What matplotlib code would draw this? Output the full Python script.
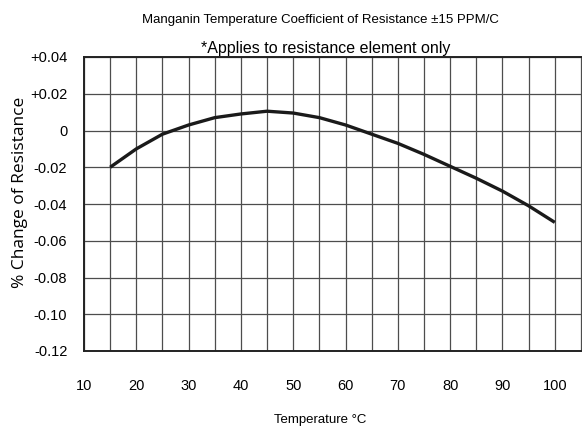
import matplotlib
matplotlib.use("Agg")
import matplotlib.pyplot as plt

# curve
temp_c = [15, 20, 25, 30, 35, 40, 45, 50, 55, 60, 65, 70, 75, 80, 85, 90, 95, 100]
pct_change = [-0.020, -0.010, -0.002, 0.003, 0.007, 0.009, 0.0105, 0.0095, 0.007, 0.003,
              -0.002, -0.007, -0.013, -0.0195, -0.026, -0.033, -0.041, -0.050]

x_ticks = [10, 20, 30, 40, 50, 60, 70, 80, 90, 100]
y_ticks = [0.04, 0.02, 0, -0.02, -0.04, -0.06, -0.08, -0.10, -0.12]
y_labels = ["+0.04", "+0.02", "0", "-0.02", "-0.04", "-0.06", "-0.08", "-0.10", "-0.12"]

narrow = ["Liberation Sans", "DejaVu Sans"]
plain = ["Liberation Sans", "DejaVu Sans"]
ylab_font = ["Open Sans", "DejaVu Sans"]

fig = plt.figure(figsize=(5.82, 4.29), dpi=100)
ax = fig.add_axes([84/582, 1 - 351/429, 1 - 84/582, (351 - 57)/429])

ax.plot(temp_c, pct_change, color="#1a1a1a", lw=2.4, solid_capstyle="butt")

ax.set_xlim(10, 105.2)
ax.set_ylim(-0.12, 0.04)

# grid every 5 degrees and every 0.02
grid_x = list(range(10, 106, 5))
ax.set_xticks(grid_x)
ax.set_xticklabels([str(v) if v in x_ticks else "" for v in grid_x],
                   family=narrow, fontsize=10.5)
ax.set_yticks(y_ticks)
ax.set_yticklabels(y_labels, family=narrow, fontsize=10.5)
ax.tick_params(axis="both", length=0)
ax.tick_params(axis="x", pad=20)
ax.tick_params(axis="y", pad=12)
ax.grid(True, color="#4d4d4d", lw=0.9)
ax.set_axisbelow(True)

ax.spines["right"].set_visible(False)
for s in ["left", "bottom", "top"]:
    ax.spines[s].set_linewidth(1.4)
    ax.spines[s].set_color("#222222")

fig.text(320/582, 1 - 20/429, "Manganin Temperature Coefficient of Resistance \u00b115 PPM/C",
         ha="center", va="center", family=narrow, fontsize=9.5)
fig.text(326/582, 1 - 48/429, "*Applies to resistance element only",
         ha="center", va="center", family=plain, fontsize=11.5)
fig.text(20/582, 1 - 192/429, "% Change of Resistance", rotation=90,
         ha="center", va="center", family=ylab_font, fontsize=12.5)
fig.text(320/582, 1 - 420/429, "Temperature \u00b0C",
         ha="center", va="center", family=narrow, fontsize=9.5)

fig.savefig("out.png", dpi=100)
